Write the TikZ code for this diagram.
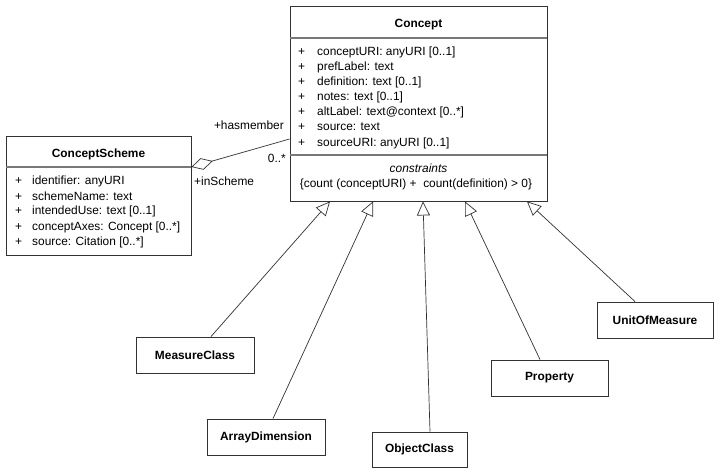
\documentclass[tikz,border=0pt]{standalone}
\usepackage{fontspec}
\setmainfont{Liberation Sans}
\usetikzlibrary{arrows.meta}
\definecolor{Edge}{RGB}{50,50,50}
\definecolor{Sep}{RGB}{120,120,120}

\begin{document}
\begin{tikzpicture}[x=1pt,y=-1pt]
          \tikzset{ cls/.style ={draw=Edge, fill=white, line width=0.9pt, inner sep=0pt} }
          \tikzset{ ttl/.style ={inner sep=0pt, font=\fontsize{11.9}{13}\selectfont\bfseries} }
          \tikzset{ att/.style ={anchor=west, inner sep=0pt, font=\fontsize{11.9}{13}\selectfont} }
          \tikzset{ sep/.style ={draw=Sep, line width=1.4pt} }
          \tikzset{ gen/.style ={draw=Edge, line width=0.7pt, -{Triangle[open, length=14pt, width=13pt, fill=white]}} }
          \tikzset{ agg/.style ={draw=Edge, line width=0.7pt, {Diamond[open, length=22pt, width=12pt, fill=white]}-} }

          \fill[white] (0,0) rectangle (722,474);
          \useasboundingbox (0,0) rectangle (722,474);

          % Concept
          \node[cls, minimum width=257pt, minimum height=195pt] (concept) at (418.5, 103.5) {};
          \draw[sep] (concept.west |- 0,38) -- (concept.east |- 0,38);
          \draw[sep] (concept.west |- 0,155) -- (concept.east |- 0,155);
          \node[ttl] (c_t) at (418.5, 25) {Concept};
          \node[att] (c_a1) at (298, 52) {\makebox[19pt][l]{+}conceptURI: anyURI [0..1]};
          \node[att] (c_a2) at (298, 67) {\makebox[19pt][l]{+}prefLabel: text};
          \node[att] (c_a3) at (298, 82) {\makebox[19pt][l]{+}definition: text [0..1]};
          \node[att] (c_a4) at (298, 97) {\makebox[19pt][l]{+}notes: text [0..1]};
          \node[att] (c_a5) at (298, 112) {\makebox[19pt][l]{+}altLabel: text@context [0..*]};
          \node[att] (c_a6) at (298, 127) {\makebox[19pt][l]{+}source: text};
          \node[att] (c_a7) at (298, 143) {\makebox[19pt][l]{+}sourceURI: anyURI [0..1]};
          \node[att, anchor=center, font=\fontsize{11.9}{13}\selectfont\itshape] (c_k) at (418.5, 168) {constraints};
          \node[att, anchor=center] (c_r) at (416, 184) {\{count (conceptURI) +\ \ count(definition) > 0\}};

          % ConceptScheme
          \node[cls, minimum width=185pt, minimum height=119pt] (scheme) at (98.5, 195.5) {};
          \draw[sep] (scheme.west |- 0,167) -- (scheme.east |- 0,167);
          \node[ttl] (s_t) at (98.5, 154) {ConceptScheme};
          \node[att] (s_a1) at (15, 181) {\makebox[17pt][l]{+}identifier: anyURI};
          \node[att] (s_a2) at (15, 196) {\makebox[17pt][l]{+}schemeName: text};
          \node[att] (s_a3) at (15, 211) {\makebox[17pt][l]{+}intendedUse: text [0..1]};
          \node[att] (s_a4) at (15, 227) {\makebox[17pt][l]{+}conceptAxes: Concept [0..*]};
          \node[att] (s_a5) at (15, 242) {\makebox[17pt][l]{+}source: Citation [0..*]};

          % specialisations
          \node[cls, ttl, minimum width=118pt, minimum height=36pt] (mc)  at (195, 355)   {MeasureClass};
          \node[cls, ttl, minimum width=118pt, minimum height=36pt] (ad)  at (266, 437)   {ArrayDimension};
          \node[cls, ttl, minimum width=95pt,  minimum height=35pt] (oc)  at (419.5, 449.5) {ObjectClass};
          \node[cls, ttl, minimum width=117pt, minimum height=36pt] (pr)  at (549.5, 378) {Property};
          \node[cls, ttl, minimum width=116pt, minimum height=36pt] (uom) at (655, 320)   {UnitOfMeasure};

          \draw[gen] ([xshift=16pt]mc.north)   -- ([xshift=-88.5pt]concept.south);
          \draw[gen] ([xshift=7pt]ad.north)    -- ([xshift=-45.5pt]concept.south);
          \draw[gen] ([xshift=10.5pt]oc.north) -- ([xshift=4.5pt]concept.south);
          \draw[gen] ([xshift=-9.5pt]pr.north) -- ([xshift=46.5pt]concept.south);
          \draw[gen] ([xshift=-20pt]uom.north) -- ([xshift=108.5pt]concept.south);

          % association
          \draw[agg] ([yshift=28.5pt]scheme.east) -- ([yshift=-35.5pt]concept.west);
          \node[att, anchor=east] (l_hm) at (284, 125) {+hasmember};
          \node[att, anchor=east] (l_m)  at (286, 158) {0..*};
          \node[att] (l_is) at (194, 181) {+inScheme};
      \end{tikzpicture}
\end{document}
